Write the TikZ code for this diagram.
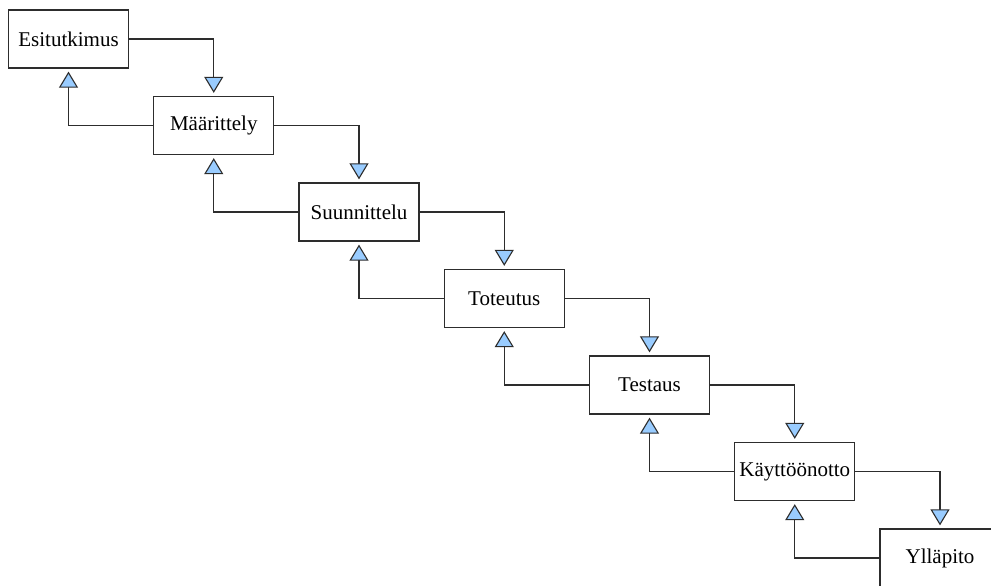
\documentclass[tikz,border=0pt]{standalone}
\usepackage{fontspec}
\setmainfont{Liberation Serif}
\usetikzlibrary{arrows.meta}
\definecolor{arrowblue}{RGB}{153,204,255}
\definecolor{linegray}{RGB}{45,45,45}
\tikzset{
  phase/.style={draw=linegray, line width=1.3pt, fill=white, minimum width=120pt, minimum height=58pt, inner sep=0pt, font=\fontsize{21}{25}\selectfont},
  flow/.style={draw=linegray, line width=1.3pt, shorten >=3pt,
    -{Triangle[width=19pt,length=16pt,fill=arrowblue,line width=1.1pt]}}
}
\begin{document}
\begin{tikzpicture}[x=1pt,y=-1pt]
\clip (0,0) rectangle (991,586);
\fill[white] (0,0) rectangle (991,586);
\node[phase] (a) at (68.5,39) {Esitutkimus};
\node[phase] (b) at (213.75,125.5) {Määrittely};
\node[phase] (c) at (359,212) {Suunnittelu};
\node[phase] (d) at (504.25,298.5) {Toteutus};
\node[phase] (e) at (649.5,385) {Testaus};
\node[phase] (f) at (794.75,471.5) {Käyttöönotto};
\node[phase] (g) at (940,558) {Ylläpito};
\foreach \u/\v in {a/b,b/c,c/d,d/e,e/f,f/g}{
  \draw[flow] (\u.east) -| (\v.north);
  \draw[flow] (\v.west) -| (\u.south);
}
\end{tikzpicture}
\end{document}
